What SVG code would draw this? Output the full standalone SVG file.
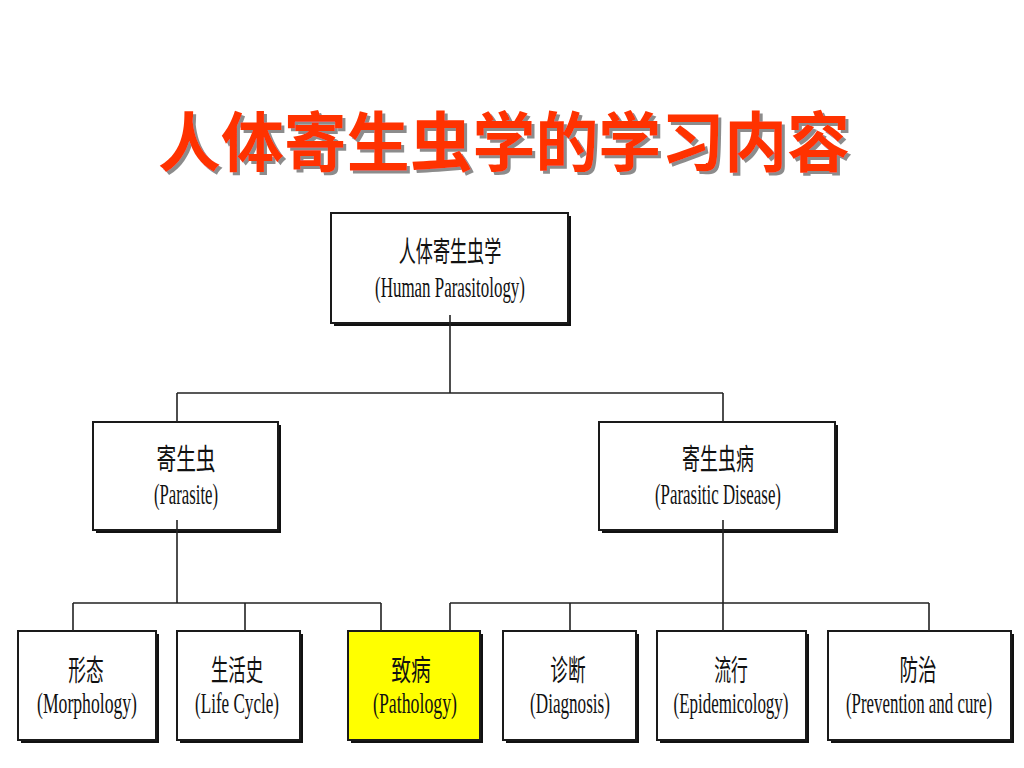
<svg xmlns="http://www.w3.org/2000/svg" width="1024" height="768" viewBox="0 0 1024 768">
<defs>
<filter id="tshadow" x="-5%" y="-20%" width="110%" height="140%">
<feDropShadow dx="3" dy="3" stdDeviation="0.6" flood-color="#8c8c8c" flood-opacity="1"/>
</filter>
</defs>
<style>
.title{font-family:"Noto Sans CJK SC","Noto Sans",sans-serif;font-weight:bold;font-size:65px;fill:#ff3300}
.box{fill:#ffffff;stroke:#1a1a1a;stroke-width:2}
.hl{fill:#ffff00}
.sh{fill:#111111}
.zh{font-family:"Noto Sans CJK SC",sans-serif;font-size:29px;fill:#111111;text-anchor:middle}
.en{font-family:"Liberation Serif",serif;font-size:30px;fill:#111111;text-anchor:middle}
.conn{fill:none;stroke:#222222;stroke-width:1.6}
</style>
<rect width="1024" height="768" fill="#ffffff"/>
<g id="title">
<text class="title" x="504" y="166" text-anchor="middle" textLength="692" lengthAdjust="spacingAndGlyphs" filter="url(#tshadow)">人体寄生虫学的学习内容</text>
</g>
<g id="node-root">
<rect class="sh" x="334" y="216" width="237" height="110"/>
<rect class="box" x="331" y="213" width="237" height="110"/>
<text class="zh" transform="translate(450 262) scale(0.59 1)">人体寄生虫学</text>
<text class="en" transform="translate(450 297) scale(0.564 1)">(Human Parasitology)</text>
</g>
<g id="node-parasite">
<rect class="sh" x="96" y="425" width="185" height="108"/>
<rect class="box" x="93" y="422" width="185" height="108"/>
<text class="zh" transform="translate(186 470) scale(0.68 1)">寄生虫</text>
<text class="en" transform="translate(186 504) scale(0.557 1)">(Parasite)</text>
</g>
<g id="node-disease">
<rect class="sh" x="602" y="425" width="236" height="108"/>
<rect class="box" x="599" y="422" width="236" height="108"/>
<text class="zh" transform="translate(718 470) scale(0.62 1)">寄生虫病</text>
<text class="en" transform="translate(718 504) scale(0.5625 1)">(Parasitic Disease)</text>
</g>
<g id="node-morphology">
<rect class="sh" x="21" y="634" width="138" height="109"/>
<rect class="box" x="18" y="631" width="138" height="109"/>
<text class="zh" transform="translate(86 681) scale(0.61 1)">形态</text>
<text class="en" transform="translate(87 713) scale(0.588 1)">(Morphology)</text>
</g>
<g id="node-lifecycle">
<rect class="sh" x="180" y="634" width="123" height="109"/>
<rect class="box" x="177" y="631" width="123" height="109"/>
<text class="zh" transform="translate(237 681) scale(0.6 1)">生活史</text>
<text class="en" transform="translate(237 713) scale(0.57 1)">(Life Cycle)</text>
</g>
<g id="node-pathology">
<rect class="sh" x="351" y="634" width="132" height="109"/>
<rect class="box hl" x="348" y="631" width="132" height="109"/>
<text class="zh" transform="translate(411 681) scale(0.68 1)">致病</text>
<text class="en" transform="translate(415 713) scale(0.593 1)">(Pathology)</text>
</g>
<g id="node-diagnosis">
<rect class="sh" x="506" y="634" width="133" height="109"/>
<rect class="box" x="503" y="631" width="133" height="109"/>
<text class="zh" transform="translate(568 681) scale(0.61 1)">诊断</text>
<text class="en" transform="translate(570 713) scale(0.571 1)">(Diagnosis)</text>
</g>
<g id="node-epidemiology">
<rect class="sh" x="660" y="634" width="149" height="109"/>
<rect class="box" x="657" y="631" width="149" height="109"/>
<text class="zh" transform="translate(731 681) scale(0.58 1)">流行</text>
<text class="en" transform="translate(731 713) scale(0.566 1)">(Epidemicology)</text>
</g>
<g id="node-prevention">
<rect class="sh" x="831" y="634" width="183" height="109"/>
<rect class="box" x="828" y="631" width="183" height="109"/>
<text class="zh" transform="translate(918 681) scale(0.64 1)">防治</text>
<text class="en" transform="translate(919 713) scale(0.562 1)">(Prevention and cure)</text>
</g>
<g id="connectors" class="conn">
<path d="M450 315 V393 M177 393 H723 M177 393 V422 M723 393 V422"/>
<path d="M177 520 V603 M73 603 H381 M73 603 V631 M245 603 V631 M381 603 V631"/>
<path d="M723 520 V603 M450 603 H929 M450 603 V631 M570 603 V631 M723 603 V631 M929 603 V631"/>
</g>
</svg>
